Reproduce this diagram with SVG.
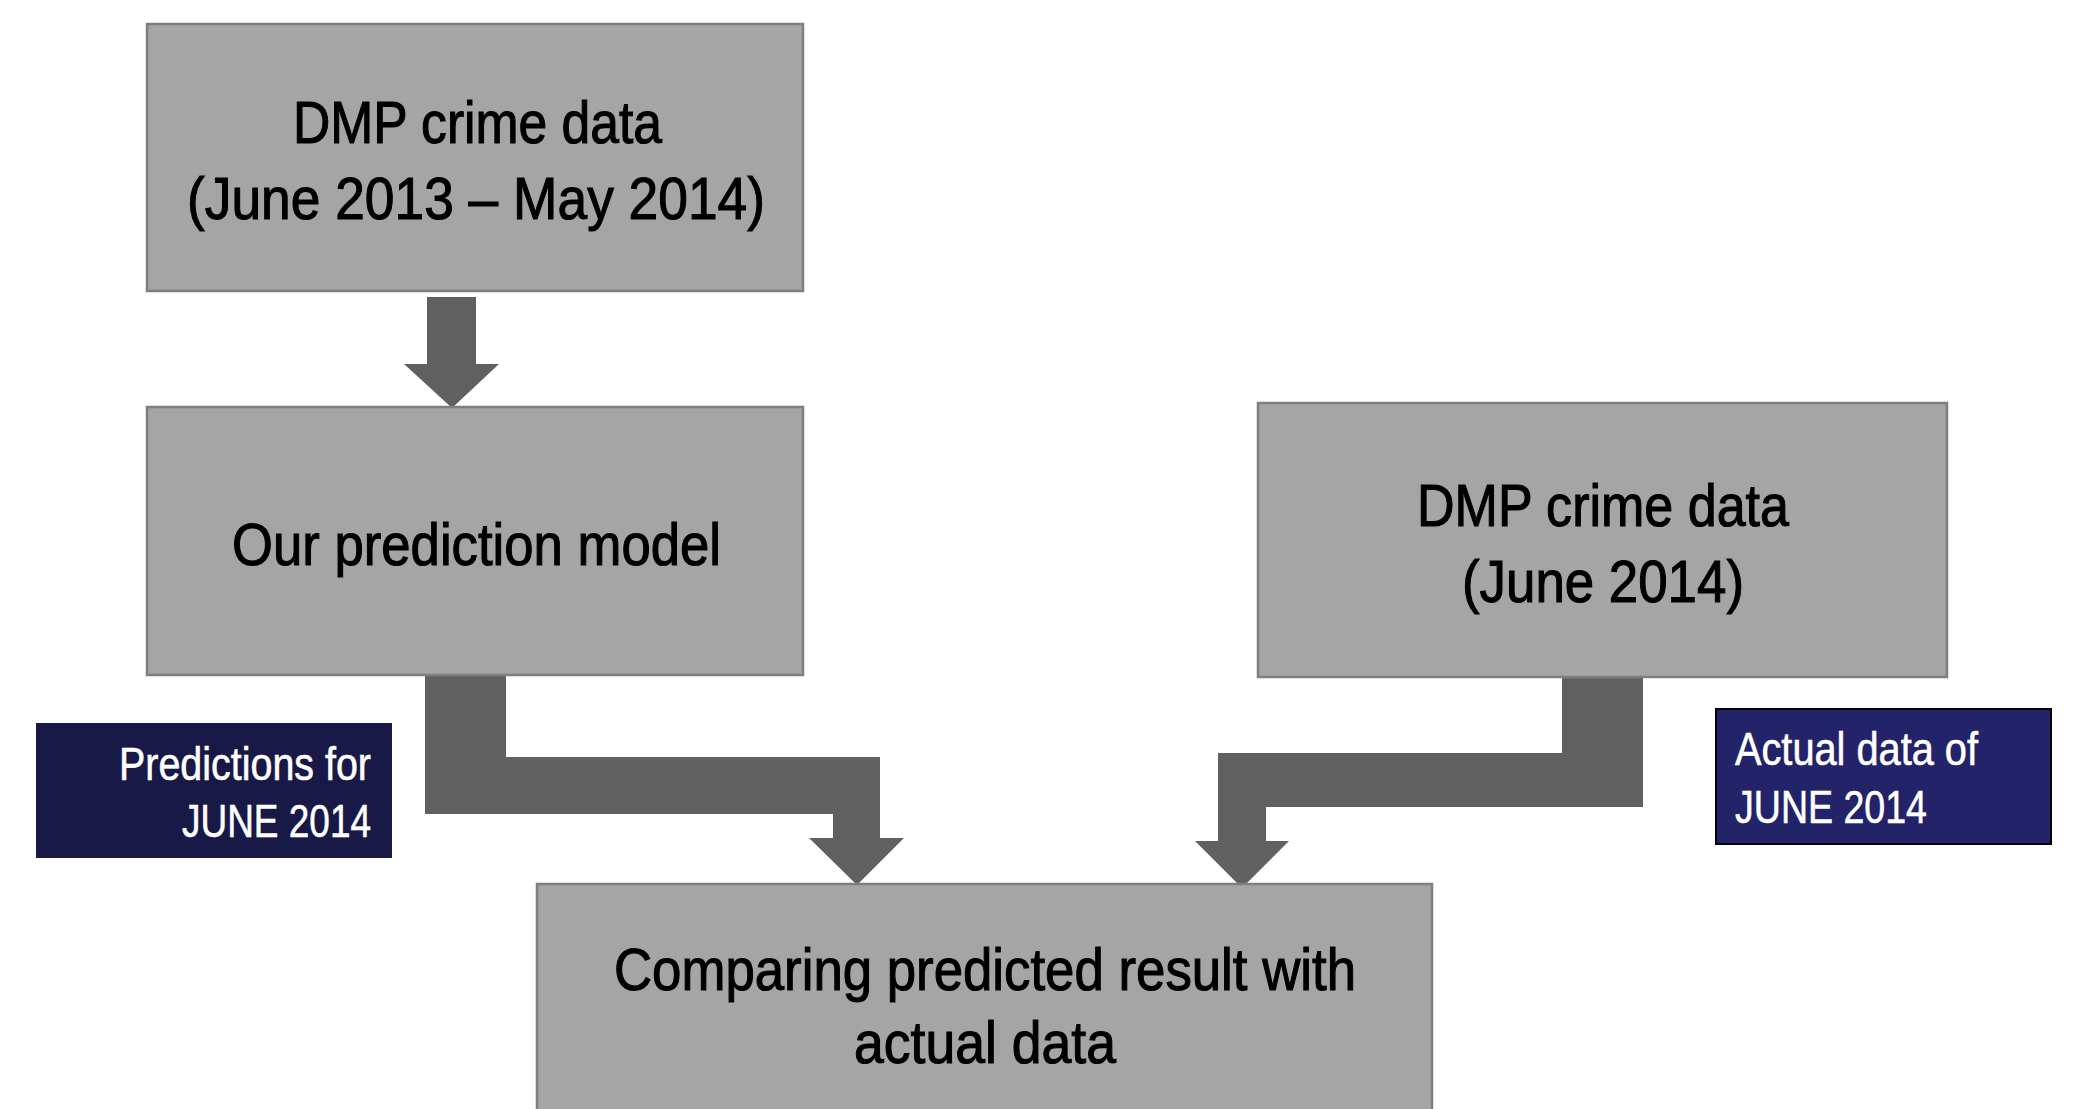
<svg xmlns="http://www.w3.org/2000/svg" width="2075" height="1109" viewBox="0 0 2075 1109">
<style>
.box{fill:#a5a5a5;stroke:#7f7f7f;stroke-width:2.5}
.arrow{fill:#606060}
.t{font-family:"Liberation Sans",Arial,sans-serif;font-size:59px;fill:#000;stroke:#000;stroke-width:1.1}
.lt{font-family:"Liberation Sans",Arial,sans-serif;font-size:47px;fill:#fff;stroke:#fff;stroke-width:0.6}
.lab1{fill:#191947}
.lab2{fill:#232369;stroke:#000;stroke-width:2}
</style>
<rect width="2075" height="1109" fill="#fff"/>
<g id="connectors">
<polygon class="arrow" points="427,297 476,297 476,364 499,364 452,408 404,364 427,364"/>
<polygon class="arrow" points="425,676 506,676 506,757 880,757 880,838 904,838 857,885 809,838 833,838 833,814 425,814"/>
<polygon class="arrow" points="1562,677 1643,677 1643,807 1266,807 1266,841 1289,841 1242,888 1195,841 1218,841 1218,753 1562,753"/>
</g>
<g id="node-dmp-history">
<rect class="box" x="147" y="24" width="656" height="267"/>
<text class="t" x="293" y="143" textLength="369" lengthAdjust="spacingAndGlyphs">DMP crime data</text>
<text class="t" x="187" y="219" textLength="578" lengthAdjust="spacingAndGlyphs">(June 2013 – May 2014)</text>
</g>
<g id="node-model">
<rect class="box" x="147" y="407" width="656" height="268"/>
<text class="t" x="232" y="565" textLength="489" lengthAdjust="spacingAndGlyphs">Our prediction model</text>
</g>
<g id="node-dmp-june">
<rect class="box" x="1258" y="403" width="689" height="274"/>
<text class="t" x="1417" y="526" textLength="372" lengthAdjust="spacingAndGlyphs">DMP crime data</text>
<text class="t" x="1462" y="602" textLength="282" lengthAdjust="spacingAndGlyphs">(June 2014)</text>
</g>
<g id="node-compare">
<rect class="box" x="537" y="884" width="895" height="240"/>
<text class="t" x="614" y="990" textLength="742" lengthAdjust="spacingAndGlyphs">Comparing predicted result with</text>
<text class="t" x="854" y="1063" textLength="262" lengthAdjust="spacingAndGlyphs">actual data</text>
</g>
<g id="label-predictions">
<rect class="lab1" x="36" y="723" width="356" height="135"/>
<text class="lt" x="119" y="780" textLength="252" lengthAdjust="spacingAndGlyphs">Predictions for</text>
<text class="lt" x="182" y="837" textLength="189" lengthAdjust="spacingAndGlyphs">JUNE 2014</text>
</g>
<g id="label-actual">
<rect class="lab2" x="1716" y="709" width="335" height="135"/>
<text class="lt" x="1735" y="765" textLength="243" lengthAdjust="spacingAndGlyphs">Actual data of</text>
<text class="lt" x="1735" y="823" textLength="192" lengthAdjust="spacingAndGlyphs">JUNE 2014</text>
</g>
</svg>
